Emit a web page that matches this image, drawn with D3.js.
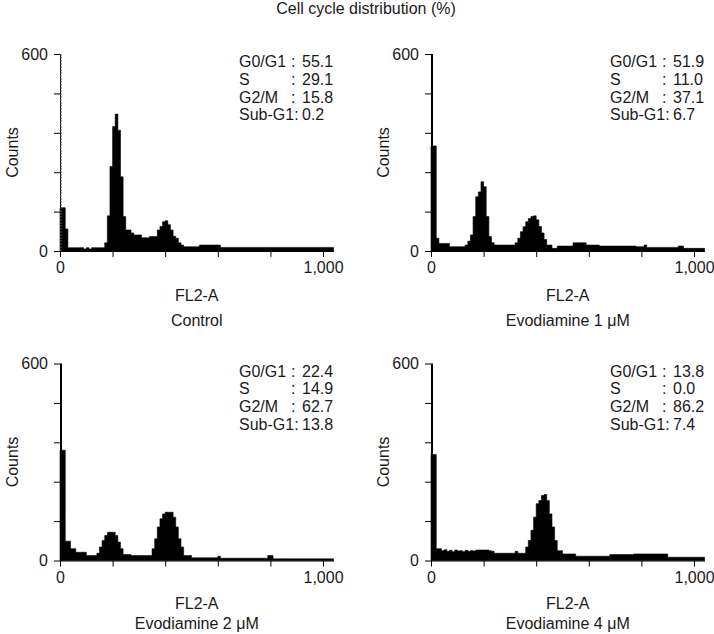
<!DOCTYPE html>
<html>
<head>
<meta charset="utf-8">
<script src="https://cdn.jsdelivr.net/npm/d3@7"></script>
<style>
  html, body { margin: 0; padding: 0; background: #fff; }
  svg { display: block; }
  text { font-family: Arial, "Liberation Sans", Helvetica, sans-serif; fill: #1a1a1a; }
</style>
</head>
<body>
<svg id="chart" width="714" height="634"></svg>
<script>
// ---------------- DATA ----------------
const chartTitle = "Cell cycle distribution (%)";
const xLabel = "FL2-A";
const yLabel = "Counts";
const conditions = ["Control", "Evodiamine 1 \u03bcM", "Evodiamine 2 \u03bcM", "Evodiamine 4 \u03bcM"];
const phaseLabels = ["G0/G1", "S", "G2/M", "Sub-G1"];
const phaseValues = [
  [55.1, 29.1, 15.8, 0.2],
  [51.9, 11.0, 37.1, 6.7],
  [22.4, 14.9, 62.7, 13.8],
  [13.8, 0.0, 86.2, 7.4]
];
const binWidth = 10;           // FL2-A channels per histogram bin
const xTickValues = [0, 200, 400, 600, 800, 1000];
const xTickLabels = ["0", "", "", "", "", "1,000"];
const yTickValues = [0, 120, 240, 360, 480, 600];
const yTickLabels = ["0", "", "", "", "", "600"];
// counts piled up in the very first channel (off-scale spike)
const channelZeroCounts = [600, 600, 600, 600];

// histogram counts per bin (bin i covers channels [10i, 10i+10))
const countsControl = [
  132,132,67,10,10,10,10,10,10,6,
  10,6,10,10,10,10,10,25,107,257,
  379,417,368,226,105,64,64,55,49,49,
  49,40,40,40,44,44,44,64,75,89,
  92,80,64,45,39,25,18,13,13,13,
  13,13,13,18,18,18,18,18,18,18,
  18,11,11,11,11,11,11,11,11,11,
  11,11,11,11,11,11,11,11,11,11,
  11,11,11,11,11,11,11,11,11,11,
  11,11,11,11,11,11,11,11,11,11,
  11,11,11,11
];
const countsEvo1 = [
  320,320,39,23,23,23,23,13,13,13,
  13,13,13,18,30,49,105,165,180,211,
  196,105,44,25,18,18,18,18,18,18,
  18,18,25,39,59,74,89,99,105,107,
  95,75,55,35,18,18,8,8,15,15,
  15,15,15,15,25,25,25,25,25,18,
  18,18,18,18,15,15,15,15,15,15,
  15,15,15,15,15,15,15,15,13,13,
  13,18,11,11,11,11,11,11,11,11,
  11,11,11,11,15,15,8,8,8,8,
  8,8,8,8
];
const countsEvo2 = [
  336,336,59,59,36,36,25,25,25,25,
  15,15,15,15,22,41,61,76,86,86,
  86,76,56,36,18,18,18,15,15,15,
  15,15,15,15,15,36,66,102,127,142,
  147,147,147,132,102,66,41,15,15,15,
  8,8,8,8,8,8,8,8,8,8,
  13,7,7,7,7,7,7,7,7,7,
  7,7,7,7,7,7,7,7,7,15,
  15,5,5,5,5,5,5,5,5,5,
  5,5,5,5,5,5,5,5,5,5,
  5,5,5,5
];
const countsEvo4 = [
  323,323,36,36,30,33,28,31,27,32,
  29,30,27,31,28,30,29,32,32,32,
  32,32,30,28,22,22,22,22,22,22,
  22,22,28,22,22,22,41,61,92,132,
  173,183,198,201,183,142,102,61,30,30,
  20,20,20,20,20,13,13,13,13,13,
  13,13,13,13,13,13,13,13,18,18,
  18,18,18,18,18,18,18,20,20,20,
  20,20,20,20,20,20,20,20,20,20,
  10,10,10,10,10,10,10,10,10,10,
  10,10,10,10
];
const histograms = [countsControl, countsEvo1, countsEvo2, countsEvo4];

// ---------------- LAYOUT ----------------
const svg = d3.select("#chart");
const pxPerUnit = 0.263;
const plotH = 197;
const panelOrigins = [
  { x0: 60,  y0: 251 },
  { x0: 431, y0: 251 },
  { x0: 60,  y0: 560.5 },
  { x0: 431, y0: 560.5 }
];
const labelOffsets = [
  { fl: 50, cond: 75 },
  { fl: 50, cond: 75 },
  { fl: 48.5, cond: 68.5 },
  { fl: 48.5, cond: 68.5 }
];

svg.append("text")
  .attr("x", 366).attr("y", 14)
  .attr("text-anchor", "middle")
  .style("font-size", "16px")
  .text(chartTitle);

histograms.forEach((counts, p) => {
  const { x0, y0 } = panelOrigins[p];
  const nBins = counts.length;
  const xMax = nBins * binWidth;
  const x = d3.scaleLinear().domain([0, xMax]).range([x0, x0 + pxPerUnit * xMax]);
  const y = d3.scaleLinear().domain([0, 600]).range([y0, y0 - plotH]);
  const g = svg.append("g");

  // histogram (step area)
  const pts = counts.map((c, i) => ({ ch: i * binWidth, c }));
  pts.push({ ch: xMax, c: counts[nBins - 1] });
  const area = d3.area()
    .x(d => x(d.ch))
    .y0(y(0))
    .y1(d => y(d.c))
    .curve(d3.curveStepAfter);
  g.append("path")
    .datum(pts)
    .attr("d", area)
    .attr("fill", "#000")
    .attr("stroke", "#000")
    .attr("stroke-width", 0.6);

  // axes
  const xAxis = d3.axisBottom(x)
    .tickValues(xTickValues)
    .tickFormat((d, i) => xTickLabels[i])
    .tickSize(6).tickSizeOuter(0).tickPadding(5);
  const gx = g.append("g").attr("transform", `translate(0,${y0})`).call(xAxis);
  const yAxis = d3.axisLeft(y)
    .tickValues(yTickValues)
    .tickFormat((d, i) => yTickLabels[i])
    .tickSize(6).tickSizeOuter(0).tickPadding(6);
  const gy = g.append("g").attr("transform", `translate(${x0},0)`).call(yAxis);
  [gx, gy].forEach(a => {
    a.selectAll("path, line").attr("stroke", "#000").attr("stroke-width", 1);
    a.selectAll("text").style("font-size", "16px")
      .style("font-family", "Arial, 'Liberation Sans', sans-serif").attr("fill", "#1a1a1a");
  });

  // off-scale spike in the first channel
  g.append("line")
    .attr("x1", x(0) + 1).attr("x2", x(0) + 1)
    .attr("y1", y(0)).attr("y2", y(Math.min(600, channelZeroCounts[p])))
    .attr("stroke", p === 0 ? "#555" : "#000")
    .attr("stroke-width", p === 0 ? 1 : 2)
    .attr("stroke-dasharray", p === 0 ? "2,1" : null);

  // axis titles
  const cx = (x(0) + x(xMax)) / 2;
  g.append("text")
    .attr("transform", `translate(${x0 - 42},${(y(0) + y(600)) / 2}) rotate(-90)`)
    .attr("text-anchor", "middle")
    .style("font-size", "16px")
    .text(yLabel);
  g.append("text")
    .attr("x", cx).attr("y", y0 + labelOffsets[p].fl)
    .attr("text-anchor", "middle")
    .style("font-size", "16px")
    .text(xLabel);
  g.append("text")
    .attr("x", cx).attr("y", y0 + labelOffsets[p].cond)
    .attr("text-anchor", "middle")
    .style("font-size", "16px")
    .text(conditions[p]);

  // stats block
  const top = y(600);
  phaseLabels.forEach((lab, k) => {
    const by = top + 13 + k * 17.8;
    const val = phaseValues[p][k].toFixed(1);
    if (k < 3) {
      g.append("text").attr("x", x0 + 179).attr("y", by).style("font-size", "16px").text(lab);
      g.append("text").attr("x", x0 + 231).attr("y", by).style("font-size", "16px").text(":");
    } else {
      g.append("text").attr("x", x0 + 179).attr("y", by).style("font-size", "16px").text(lab + ":");
    }
    g.append("text").attr("x", x0 + 242).attr("y", by).style("font-size", "16px").text(val);
  });
});
</script>
</body>
</html>
